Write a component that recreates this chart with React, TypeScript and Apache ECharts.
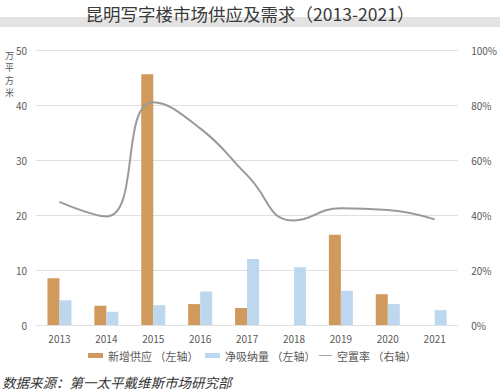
import React, { useEffect, useRef } from "react";
import * as echarts from "echarts";

const years = ["2013", "2014", "2015", "2016", "2017", "2018", "2019", "2020", "2021"];
const newSupply = [8.5, 3.5, 45.6, 3.8, 3.1, null, 16.4, 5.6, null];
const netAbsorption = [4.5, 2.4, 3.6, 6.1, 12.0, 10.5, 6.2, 3.8, 2.7];
const vacancy = [44.8, 39.5, 81, 71.5, 54.5, 38, 42.5, 41.8, 38.4];
const leftTicks = [0, 10, 20, 30, 40, 50];
const rightTicks = [0, 20, 40, 60, 80, 100];
const seriesNames = ["新增供应 （左轴）", "净吸纳量 （左轴）", "空置率 （右轴）"];

const FONT = '"Noto Sans CJK SC", "Noto Sans", sans-serif';

export default function App() {
  const ref = useRef<HTMLDivElement>(null);
  useEffect(() => {
    const chart = echarts.init(ref.current!, null, { renderer: "svg" });
    const legendBase = {
      top: 350,
      padding: 0,
      itemWidth: 15,
      itemHeight: 5,
      textStyle: { fontSize: 11, color: "#595959", fontFamily: FONT },
    };
    chart.setOption({
      animation: false,
      backgroundColor: "#ffffff",
      textStyle: { fontFamily: FONT },
      graphic: [
        { type: "rect", left: 0, top: 17, shape: { width: 500, height: 10 }, style: { fill: "#e3e3e3" }, z: 0 },
        {
          type: "text",
          left: "center",
          top: 5,
          style: {
            text: "昆明写字楼市场供应及需求（2013-2021）",
            font: `17.5px ${FONT}`,
            fill: "#3a3a3a",
          },
          z: 1,
        },
        {
          type: "text",
          left: 5,
          top: 49,
          style: {
            text: "万\n平\n方\n米",
            font: `9px ${FONT}`,
            lineHeight: 12.5,
            fill: "#595959",
          },
        },
        {
          type: "text",
          left: 2,
          top: 375,
          style: {
            text: "数据来源：第一太平戴维斯市场研究部",
            font: `italic 13.5px ${FONT}`,
            fill: "#333333",
          },
        },
      ],
      legend: [
        { ...legendBase, left: 88, data: [{ name: seriesNames[0], icon: "rect" }] },
        { ...legendBase, left: 205, data: [{ name: seriesNames[1], icon: "rect" }] },
        {
          ...legendBase,
          left: 319,
          itemWidth: 13,
          data: [{ name: seriesNames[2], icon: "path://M0,0 L30,0 L30,2 L0,2 Z" }],
        },
      ],
      grid: { left: 36, right: 38, top: 50, bottom: 66 },
      xAxis: {
        type: "category",
        data: years,
        axisLine: { show: false },
        axisTick: { show: false },
        axisLabel: { color: "#595959", fontSize: 10, margin: 8 },
      },
      yAxis: [
        {
          type: "value",
          min: leftTicks[0],
          max: leftTicks[leftTicks.length - 1],
          interval: 10,
          axisLine: { show: false },
          axisTick: { show: false },
          axisLabel: { color: "#595959", fontSize: 10, margin: 9 },
          splitLine: { lineStyle: { color: "#e0e0e0", width: 1 } },
        },
        {
          type: "value",
          min: rightTicks[0],
          max: rightTicks[rightTicks.length - 1],
          interval: 20,
          axisLine: { show: false },
          axisTick: { show: false },
          axisLabel: { color: "#595959", fontSize: 10, margin: 13, formatter: "{value}%" },
          splitLine: { show: false },
        },
      ],
      series: [
        {
          name: seriesNames[0],
          type: "bar",
          data: newSupply,
          barWidth: 12,
          barGap: "0%",
          itemStyle: { color: "#d09a5c" },
        },
        {
          name: seriesNames[1],
          type: "bar",
          data: netAbsorption,
          barWidth: 12,
          barGap: "0%",
          itemStyle: { color: "#bdd7ee" },
        },
        {
          name: seriesNames[2],
          type: "line",
          yAxisIndex: 1,
          data: vacancy,
          smooth: 0.5,
          symbol: "none",
          lineStyle: { color: "#9a9a9a", width: 2 },
          itemStyle: { color: "#9a9a9a" },
        },
      ],
    });
    return () => chart.dispose();
  }, []);
  return <div ref={ref} style={{ width: 500, height: 391, position: "absolute", left: 0, top: 0 }} />;
}
